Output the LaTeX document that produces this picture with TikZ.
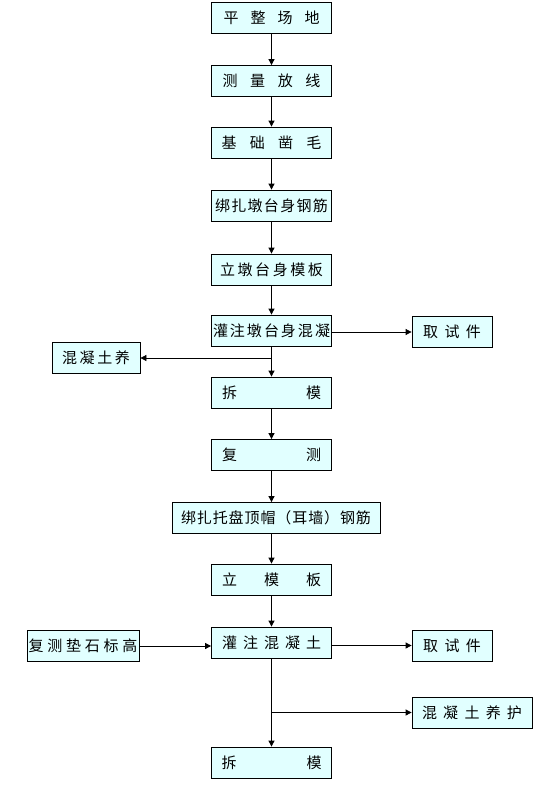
\documentclass[tikz,border=0pt]{standalone}
\usepackage{fontspec}
\setmainfont{Noto Sans CJK SC}
\usetikzlibrary{arrows.meta}
\definecolor{PaleCyan}{HTML}{E1FFFF}
\newcommand{\sprd}[2]{\makebox[#1][s]{#2}}

\begin{document}
\begin{tikzpicture}[x=1pt,y=-1pt,
    stepbox/.style={draw=black,line width=0.8pt,fill=PaleCyan,minimum height=31pt,inner sep=0pt,font=\fontsize{15}{15}\selectfont},
    mainbox/.style={stepbox,minimum width=120pt},
    arr/.style={line width=0.8pt,-{Triangle[length=6pt,width=6pt]}}]
    \useasboundingbox (0,0) rectangle (553,792);
    % main column
    \node[mainbox] (site) at (271.5,17.5) {\sprd{96pt}{平\hfill 整\hfill 场\hfill 地}};
    \node[mainbox] (survey) at (271.5,81) {\sprd{98pt}{测\hfill 量\hfill 放\hfill 线}};
    \node[mainbox] (chisel) at (271.5,142.5) {\sprd{100pt}{基\hfill 础\hfill 凿\hfill 毛}};
    \node[mainbox] (rebarA) at (271.5,205.5) {\sprd{113pt}{绑\hfill 扎\hfill 墩\hfill 台\hfill 身\hfill 钢\hfill 筋}};
    \node[mainbox] (formA) at (271.5,269.5) {\sprd{103pt}{立\hfill 墩\hfill 台\hfill 身\hfill 模\hfill 板}};
    \node[mainbox] (pourA) at (271.5,330.5) {\sprd{117pt}{灌\hfill 注\hfill 墩\hfill 台\hfill 身\hfill 混\hfill 凝}};
    \node[mainbox] (stripA) at (271.5,392.5) {\sprd{99pt}{拆\hfill 模}};
    \node[mainbox] (recheck) at (271.5,455) {\sprd{99pt}{复\hfill 测}};
    \node[stepbox,minimum width=208pt] (rebarB) at (276,518) {\sprd{190pt}{绑\hfill 扎\hfill 托\hfill 盘\hfill 顶\hfill 帽\hfill （\hfill 耳\hfill 墙\hfill ）\hfill 钢\hfill 筋}};
    \node[mainbox] (formB) at (271.5,579.5) {\sprd{99pt}{立\hfill 模\hfill 板}};
    \node[mainbox] (pourB) at (271.5,642.5) {\sprd{99pt}{灌\hfill 注\hfill 混\hfill 凝\hfill 土}};
    \node[mainbox] (stripB) at (271.5,762.5) {\sprd{100pt}{拆\hfill 模}};
    % side boxes
    \node[stepbox,minimum width=88pt] (cureA) at (96,358) {\sprd{68pt}{混\hfill 凝\hfill 土\hfill 养}};
    \node[stepbox,minimum width=80pt] (testA) at (452,332) {\sprd{58pt}{取\hfill 试\hfill 件}};
    \node[stepbox,minimum width=112pt] (pad) at (83,646) {\sprd{109pt}{复\hfill 测\hfill 垫\hfill 石\hfill 标\hfill 高}};
    \node[stepbox,minimum width=80pt] (testB) at (452,645.5) {\sprd{58pt}{取\hfill 试\hfill 件}};
    \node[stepbox,minimum width=120pt] (cureB) at (472,712.5) {\sprd{100pt}{混\hfill 凝\hfill 土\hfill 养\hfill 护}};
    \coordinate (jA) at (pourA |- cureA);
    \coordinate (jB) at (pourB |- cureB);

    \draw[arr] (site) -- (survey);
    \draw[arr] (survey) -- (chisel);
    \draw[arr] (chisel) -- (rebarA);
    \draw[arr] (rebarA) -- (formA);
    \draw[arr] (formA) -- (pourA);
    \draw[arr] (pourA) -- (stripA);
    \draw[arr] (stripA) -- (recheck);
    \draw[arr] (recheck.south) -- (recheck.south |- rebarB.north);
    \draw[arr] (formB.north |- rebarB.south) -- (formB.north);
    \draw[arr] (formB) -- (pourB);
    \draw[arr] (pourB) -- (stripB);
    \draw[arr] (jA) -- (cureA.east);
    \draw[arr] (pourA.east |- testA) -- (testA.west);
    \draw[arr] (pad.east) -- (pad -| pourB.west);
    \draw[arr] (pourB.east |- testB) -- (testB.west);
    \draw[arr] (jB) -- (cureB.west);
\end{tikzpicture}
\end{document}
